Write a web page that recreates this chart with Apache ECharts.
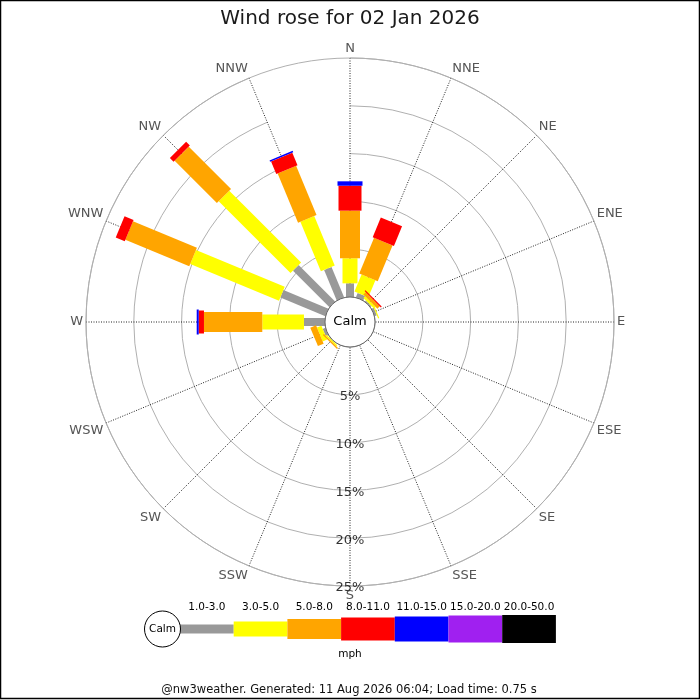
<!DOCTYPE html>
<html>
<head>
<meta charset="utf-8">
<title>Wind rose</title>
<script src="https://cdn.jsdelivr.net/npm/echarts@6/dist/echarts.min.js"></script>
<style>
html, body { margin: 0; padding: 0; background: #fff; }
#chart { width: 700px; height: 700px; }
</style>
</head>
<body>
<div id="chart"></div>
<script>
// directions, clockwise from north
var directions = ['N', 'NNE', 'NE', 'ENE', 'E', 'ESE', 'SE', 'SSE', 'S', 'SSW', 'SW', 'WSW', 'W', 'WNW', 'NW', 'NNW'];
var speedBands = ['1.0-3.0', '3.0-5.0', '5.0-8.0', '8.0-11.0', '11.0-15.0', '15.0-20.0', '20.0-50.0'];

// % of time per direction and speed band (mph)
var band1to3   = [1.43, 0.50, 0.15, 0.25, 0, 0, 0, 0, 0, 0, 0.05, 0.30, 2.20, 5.10, 5.40, 3.45];
var band3to5   = [2.62, 1.94, 0.25, 0.12, 0, 0, 0, 0, 0, 0, 0.15, 0.50, 4.36, 10.05, 10.63, 5.61];
var band5to8   = [4.98, 4.05, 0.35, 0, 0, 0, 0, 0, 0, 0, 0.15, 0.65, 6.10, 7.24, 6.25, 5.58];
var band8to11  = [2.61, 2.22, 0.12, 0, 0, 0, 0, 0, 0, 0, 0, 0, 0.55, 1.02, 0.55, 1.42];
var band11to15 = [0.46, 0, 0, 0, 0, 0, 0, 0, 0, 0, 0, 0, 0.21, 0, 0, 0.16];
var band15to20 = [0, 0, 0, 0, 0, 0, 0, 0, 0, 0, 0, 0, 0, 0, 0, 0];
var band20to50 = [0, 0, 0, 0, 0, 0, 0, 0, 0, 0, 0, 0, 0, 0, 0, 0];

var ringTicks = [5, 10, 15, 20, 25];

var bandValues = [band1to3, band3to5, band5to8, band8to11, band11to15, band15to20, band20to50];
var bandColors = ['#999999', '#ffff00', '#ffa500', '#ff0000', '#0000ff', '#a020f0', '#000000'];
var bandWidths = [8, 15, 20, 23, 25, 27, 28];

var font = 'DejaVu Sans';
var cx = 350, cy = 322, calmR = 25;

function bandRenderer(width) {
    return function (params, api) {
        var dir = api.value(0), lo = api.value(1), hi = api.value(2);
        if (!(hi > lo)) return null;
        var ox = params.coordSys.cx, oy = params.coordSys.cy;
        var a = api.coord([lo, dir]), b = api.coord([hi, dir]);
        var ux = b[0] - ox, uy = b[1] - oy, len = Math.sqrt(ux * ux + uy * uy);
        ux /= len; uy /= len;
        var px = -uy * width / 2, py = ux * width / 2;
        return {
            type: 'polygon',
            shape: { points: [[a[0] + px, a[1] + py], [b[0] + px, b[1] + py], [b[0] - px, b[1] - py], [a[0] - px, a[1] - py]] },
            style: { fill: api.visual('color') }
        };
    };
}

var series = [];
var base = directions.map(function () { return 0; });
bandValues.forEach(function (vals, k) {
    var data = directions.map(function (d, i) {
        var item = [i, base[i], base[i] + vals[i]];
        base[i] += vals[i];
        return item;
    });
    series.push({
        name: speedBands[k],
        type: 'custom',
        coordinateSystem: 'polar',
        renderItem: bandRenderer(bandWidths[k]),
        itemStyle: { color: bandColors[k] },
        dimensions: ['dir', 'lo', 'hi'],
        encode: { angle: 'dir', radius: ['lo', 'hi'] },
        silent: true,
        data: data
    });
});

// ring labels down the S spoke
series.push({
    type: 'scatter',
    coordinateSystem: 'polar',
    symbolSize: 0,
    silent: true,
    z: 10,
    label: {
        show: true,
        position: 'inside',
        offset: [0, 2],
        formatter: function (p) { return p.value[0] + '%'; },
        color: '#000',
        fontSize: 13,
        fontFamily: font
    },
    data: ringTicks.map(function (v) { return [v, 'S']; })
});

// legend strip at the bottom
var graphics = [];
var legX = 180, legW = 53.7, legY = 629;
speedBands.forEach(function (name, k) {
    var h = bandWidths[k] + (k === 0 ? 1 : 0);
    graphics.push({
        type: 'rect', z: 100,
        shape: { x: legX + k * legW, y: legY - h / 2, width: legW, height: h },
        style: { fill: bandColors[k] }
    });
    graphics.push({
        type: 'text', z: 100,
        x: legX + k * legW + legW / 2, y: 607,
        style: { text: name, fontSize: 10.5, fontFamily: font, fill: '#000', align: 'center', verticalAlign: 'middle' }
    });
});
graphics.push(
    { type: 'circle', z: 101, shape: { cx: 162.5, cy: legY, r: 18 }, style: { fill: '#fff', stroke: '#000', lineWidth: 1 } },
    { type: 'text', z: 102, x: 162.5, y: legY, style: { text: 'Calm', fontSize: 10.5, fontFamily: font, fill: '#000', align: 'center', verticalAlign: 'middle' } },
    { type: 'text', z: 100, x: 350, y: 654, style: { text: 'mph', fontSize: 10.5, fontFamily: font, fill: '#000', align: 'center', verticalAlign: 'middle' } },
    { type: 'circle', z: 101, shape: { cx: cx, cy: cy, r: calmR }, style: { fill: '#fff', stroke: '#666', lineWidth: 1 } },
    { type: 'text', z: 102, x: cx, y: cy, style: { text: 'Calm', fontSize: 13, fontFamily: font, fill: '#000', align: 'center', verticalAlign: 'middle' } },
    { type: 'text', z: 100, x: 349, y: 690, style: { text: '@nw3weather. Generated: 11 Aug 2026 06:04; Load time: 0.75 s', fontSize: 11.5, fontFamily: font, fill: '#111', align: 'center', verticalAlign: 'middle' } },
    { type: 'rect', z: 103, shape: { x: 0.5, y: 0.5, width: 699, height: 698 }, style: { fill: 'none', stroke: '#000', lineWidth: 1.5 } }
);

var chart = echarts.init(document.getElementById('chart'), null, { renderer: 'canvas' });
chart.setOption({
    animation: false,
    backgroundColor: '#fff',
    textStyle: { fontFamily: font },
    title: {
        text: 'Wind rose for 02 Jan 2026',
        left: 'center',
        top: 4,
        textStyle: { fontSize: 20, fontWeight: 'normal', color: '#1a1a1a', fontFamily: font }
    },
    polar: {
        center: [cx, cy],
        radius: [calmR, 264]
    },
    angleAxis: {
        type: 'category',
        data: directions,
        boundaryGap: false,
        startAngle: 90,
        clockwise: true,
        axisLine: { show: true, lineStyle: { color: '#b0b0b0', width: 1 } },
        axisTick: { show: false },
        axisLabel: { color: '#555', fontSize: 13, margin: 3, fontFamily: font },
        splitLine: { show: true, lineStyle: { color: '#222', width: 1, type: [1, 1.5] } }
    },
    radiusAxis: {
        type: 'value',
        min: 0,
        max: 25,
        interval: 5,
        axisLine: { show: false },
        axisTick: { show: false },
        axisLabel: { show: false },
        splitLine: { show: true, lineStyle: { color: '#b0b0b0', width: 1 } }
    },
    graphic: graphics,
    series: series
});
</script>
</body>
</html>
